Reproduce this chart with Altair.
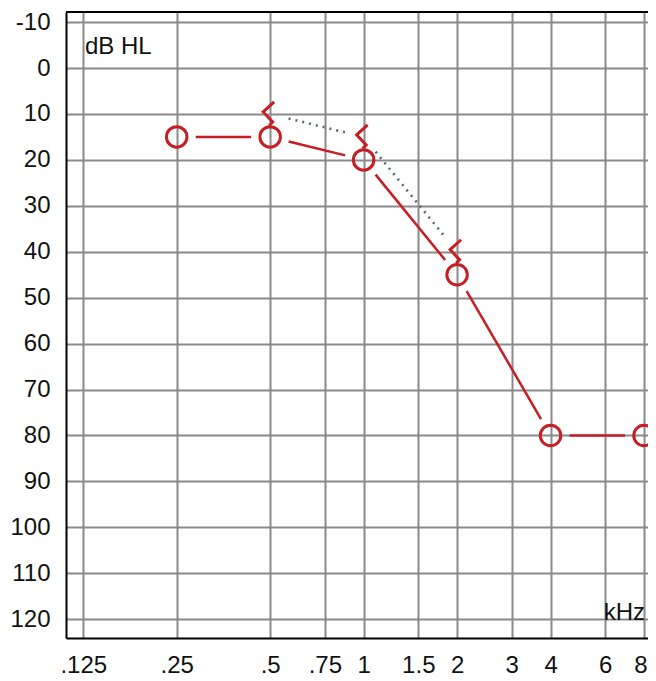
import math
import altair as alt
import pandas as pd

# ---- data ----
freq_ticks = [0.125, 0.25, 0.5, 0.75, 1, 1.5, 2, 3, 4, 6, 8]
freq_labels = [".125", ".25", ".5", ".75", "1", "1.5", "2", "3", "4", "6", "8"]
db_ticks = [-10, 0, 10, 20, 30, 40, 50, 60, 70, 80, 90, 100, 110, 120]

air_freq = [0.25, 0.5, 1, 2, 4, 8]
air_db = [15, 15, 20, 45, 80, 80]

bone_freq = [0.5, 1, 2]
bone_db = [10, 15, 40]

# ---- layout / style ----
W, H = 582, 626
X_MIN, X_MAX = 0.110, 8.24
Y_MIN, Y_MAX = -12.2, 124.1
RED = "#c61e24"
GRID = "#8a8a8a"
DOT = "#5a6868"
FONT = "Liberation Sans"

PX_OCT = W / math.log2(X_MAX / X_MIN)
PX_DB = H / (Y_MAX - Y_MIN)


def gapped(freqs, dbs, gap):
    rows = []
    for i in range(len(freqs) - 1):
        lf1, lf2 = math.log2(freqs[i]), math.log2(freqs[i + 1])
        d1, d2 = dbs[i], dbs[i + 1]
        dx = (lf2 - lf1) * PX_OCT
        dy = (d2 - d1) * PX_DB
        t = gap / math.hypot(dx, dy)
        rows.append(dict(
            f=2 ** (lf1 + (lf2 - lf1) * t), d=d1 + (d2 - d1) * t,
            f2=2 ** (lf2 - (lf2 - lf1) * t), d2=d2 - (d2 - d1) * t))
    return pd.DataFrame(rows)


air = pd.DataFrame({"f": air_freq, "d": air_db})
bone = pd.DataFrame({"f": bone_freq, "d": bone_db})
air_seg = gapped(air_freq, air_db, 19)
bone_seg = gapped(bone_freq, bone_db, 19)

label_expr = "".join(
    f"datum.value == {v} ? '{l}' : " for v, l in zip(freq_ticks, freq_labels)
) + "''"
last_tick = freq_ticks[-1]

xs = alt.Scale(type="log", base=2, domain=[X_MIN, X_MAX], nice=False, zero=False)
ys = alt.Scale(domain=[Y_MIN, Y_MAX], reverse=True, nice=False, zero=False)

xaxis = alt.Axis(values=freq_ticks, labelExpr=label_expr, ticks=False,
                 labelPadding=15, labelFontSize=24, labelFont=FONT,
                 labelColor="#111111", grid=True, gridColor=GRID, gridWidth=2,
                 domainColor="black", domainWidth=2, labelFlush=False,
                 labelAlign={"condition": {"test": f"datum.value == {last_tick}",
                                           "value": "right"},
                             "value": "center"},
                 labelOffset={"condition": {"test": f"datum.value == {last_tick}",
                                            "value": 3},
                              "value": 0},
                 labelOverlap=False, title=None)
yaxis = alt.Axis(values=db_ticks, labelExpr="'' + datum.value", ticks=False,
                 labelPadding=16, labelFontSize=24, labelFont=FONT,
                 labelColor="#111111", grid=True, gridColor=GRID, gridWidth=2,
                 domainColor="black", domainWidth=2, labelFlush=False,
                 labelOverlap=False, title=None)


def X(field):
    return alt.X(field, type="quantitative", scale=xs, axis=xaxis)


def Y(field):
    return alt.Y(field, type="quantitative", scale=ys, axis=yaxis)


air_lines = alt.Chart(air_seg).mark_rule(color=RED, strokeWidth=2.5).encode(
    x=X("f"), y=Y("d"), x2="f2", y2="d2")

bone_lines = alt.Chart(bone_seg).mark_rule(
    color=DOT, strokeWidth=2.6, strokeDash=[2, 5]).encode(
    x=X("f"), y=Y("d"), x2="f2", y2="d2")

circles = alt.Chart(air).mark_point(
    shape="circle", size=420, filled=False, color=RED, strokeWidth=3,
    opacity=1).encode(x=X("f"), y=Y("d"))

bone_shape = "M0.33,-1L-0.58,-0.17L0.21,0.67L-0.08,0.96"
bones = alt.Chart(bone).mark_point(
    shape=bone_shape, size=576, filled=False, color=RED, strokeWidth=3,
    opacity=1).encode(x=X("f"), y=Y("d"))

dummy = pd.DataFrame({"t": ["dB HL"], "k": ["kHz"]})
top_border = alt.Chart(dummy).mark_rule(color="black", strokeWidth=2).encode(
    x=alt.value(0), x2=alt.value(W), y=alt.value(0))
db_label = alt.Chart(dummy).mark_text(
    align="left", baseline="alphabetic", fontSize=24, font=FONT,
    color="#111111").encode(text="t:N", x=alt.value(19), y=alt.value(41.5))
khz_label = alt.Chart(dummy).mark_text(
    align="right", baseline="alphabetic", fontSize=24, font=FONT,
    color="#111111").encode(text="k:N", x=alt.value(579), y=alt.value(608))

chart = alt.layer(
    air_lines, bone_lines, circles, bones, top_border, db_label, khz_label
).properties(
    width=W, height=H,
    autosize=alt.AutoSizeParams(type="none"),
    padding={"left": 58, "top": 4, "right": 0, "bottom": 40},
).configure_view(stroke=None).configure(background="white")

chart.save("out.html", embed_options={"renderer": "svg", "actions": False})
